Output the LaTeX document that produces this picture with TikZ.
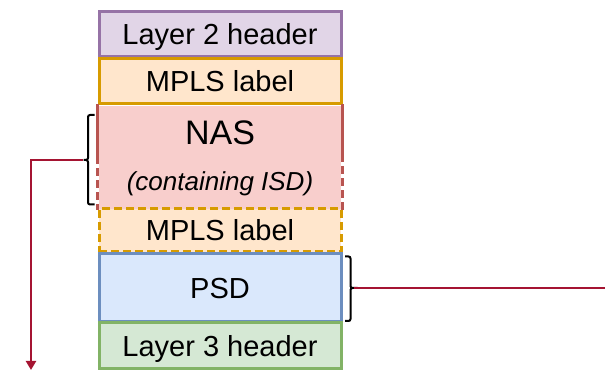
\documentclass[tikz,border=0pt]{standalone}
\usepackage{fontspec}
\setmainfont{Liberation Sans}
\usetikzlibrary{arrows.meta}
\definecolor{ltwofill}{HTML}{E1D5E7}\definecolor{ltwoline}{HTML}{9673A6}
\definecolor{mplsfill}{HTML}{FFE6CC}\definecolor{mplsline}{HTML}{D79B00}
\definecolor{nasfill}{HTML}{F8CECC}\definecolor{nasline}{HTML}{B85450}
\definecolor{psdfill}{HTML}{DAE8FC}\definecolor{psdline}{HTML}{6C8EBF}
\definecolor{lthreefill}{HTML}{D5E8D4}\definecolor{lthreeline}{HTML}{82B366}
\definecolor{linkcol}{RGB}{165,20,50}
\begin{document}
\begin{tikzpicture}[x=1pt,y=1pt,
  box/.style={rectangle, minimum width=242pt, inner sep=0pt, line width=3pt,
    font=\fontsize{29}{34}\selectfont, text=black, text height=21pt, text depth=0pt},
  dashedge/.style={dash pattern=on 8pt off 4pt},
  bracket/.style={line width=2pt, black, rounded corners=2pt},
  link/.style={draw=linkcol, line width=2.3pt}]
\useasboundingbox (0,0) rectangle (605,371);

% protocol stack
\node[box, fill=ltwofill, draw=ltwoline, minimum height=45pt] (l2) at (220,336.5) {Layer 2 header};
\node[box, fill=mplsfill, draw=mplsline, minimum height=45pt] (mpls1) at (220,289.5) {MPLS label};
\node[box, fill=nasfill, minimum height=103pt] (nas) at (220,213.5) {};
\draw[nasline, line width=3pt] (nas.north west) -- ++(0,-52) coordinate (nasl);
\draw[nasline, line width=3pt, dashedge] (nasl) -- (nas.south west);
\draw[nasline, line width=3pt] (nas.north east) -- ++(0,-50) coordinate (nasr);
\draw[nasline, line width=3pt, dashedge] (nasr) -- (nas.south east);
\node[font=\fontsize{34}{40}\selectfont, anchor=base] (nastitle) at (220,226) {NAS};
\node[font=\fontsize{26}{30}\selectfont\itshape, anchor=base] (nassub) at (220,180.5) {(containing ISD)};
\node[box, fill=mplsfill, draw=mplsline, dashedge, minimum height=43pt] (mpls2) at (220,140.5) {MPLS label};
\node[box, fill=psdfill, draw=psdline, minimum height=68pt] (psd) at (220,83) {PSD};
\node[box, fill=lthreefill, draw=lthreeline, minimum height=46pt] (l3) at (220,25) {Layer 3 header};

% brackets with a small middle tick
\coordinate (ltip) at (82.5,211);
\draw[bracket] (94.5,256) -| (88,211) -- (ltip) -- (88,211) |- (94.5,166.5);
\coordinate (rtip) at (354,83);
\draw[bracket] (345,114.5) -| (350.5,83) -- (rtip) -- (350.5,83) |- (345,50);

% connectors
\coordinate (ldrop) at (31,1);
\coordinate (rend) at (605,83);
\draw[link, -{Triangle[width=10pt,length=9pt]}] (ltip) -| (ldrop);
\draw[link] (rtip) -- (rend);
\end{tikzpicture}
\end{document}
